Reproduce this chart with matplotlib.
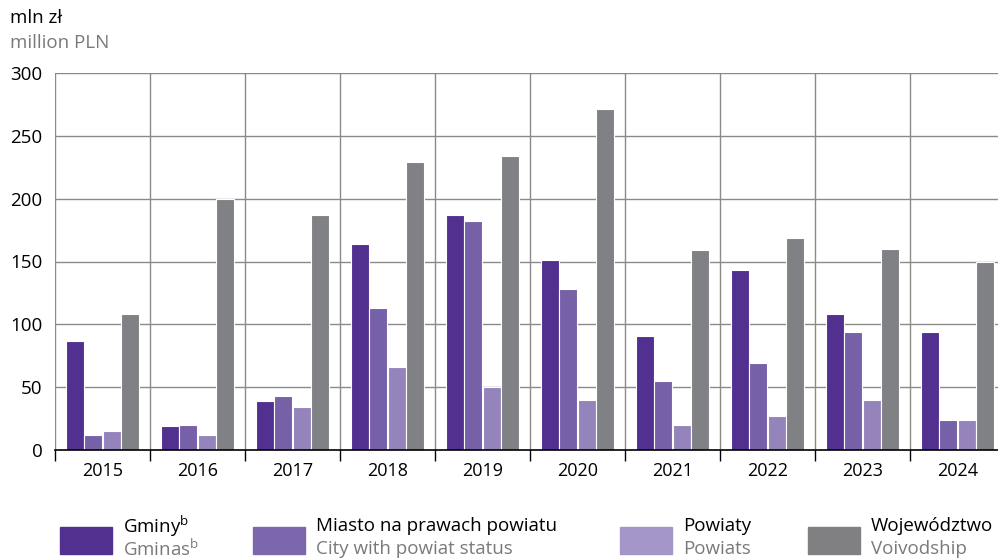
import numpy as np
import matplotlib.pyplot as plt
from matplotlib.patches import Rectangle

years = ["2015", "2016", "2017", "2018", "2019", "2020", "2021", "2022", "2023", "2024"]
gminy = [87, 19, 39, 164, 187, 151, 91, 143, 108, 94]
miasto = [12, 20, 43, 113, 182, 128, 55, 69, 94, 24]
powiaty = [15, 12, 34, 66, 50, 40, 20, 27, 40, 24]
wojew = [108, 200, 187, 229, 234, 271, 159, 169, 160, 150]

series = [gminy, miasto, powiaty, wojew]
colors = ["#52308f", "#7660a8", "#9583bc", "#808184"]
leg_colors = ["#52308f", "#7c66ac", "#a596c8", "#808083"]
labels_pl = ["Gminy$^{\\mathregular{b}}$", "Miasto na prawach powiatu", "Powiaty", "Województwo"]
labels_en = ["Gminas$^{\\mathregular{b}}$", "City with powiat status", "Powiats", "Voivodship"]

plt.rcParams['font.family'] = ['Open Sans', 'DejaVu Sans']

fig = plt.figure(figsize=(9.98, 5.6), dpi=100)
ax = fig.add_axes([55/998, 1-450/560, 950/998, 377/560])

x = np.arange(len(years))
offs = [-0.29, -0.097, 0.097, 0.29]
for vals, c, o in zip(series, colors, offs):
    ax.bar(x + o, vals, width=0.19, color=c, edgecolor="white", linewidth=0.8, zorder=3)

ax.set_xlim(-0.5, 9.5)
ax.set_ylim(0, 300)
ax.set_yticks(range(0, 301, 50))
for v in range(50, 301, 50):
    ax.axhline(v, color="#8a8a8a", lw=1, zorder=1)
for b in np.arange(-0.5, 10, 1):
    ax.axvline(b, color="#8a8a8a", lw=1, zorder=1)

ax.set_xticks(x)
ax.set_xticklabels(years, fontsize=13)
ax.set_xticks(np.arange(-0.5, 10, 1), minor=True)
ax.tick_params(axis="x", which="major", length=0, pad=9)
ax.tick_params(axis="x", which="minor", length=8, width=1, color="black", direction="out")
ax.tick_params(axis="y", length=0, labelsize=13.5, pad=9)
for s in ["top", "right", "left"]:
    ax.spines[s].set_visible(False)
ax.spines["bottom"].set_color("black")
ax.spines["bottom"].set_linewidth(1.2)
ax.spines["bottom"].set_zorder(4)

fig.text(10/998, 1-18/560, "mln zł", fontsize=13.5, color="black", va="center")
fig.text(10/998, 1-43/560, "million PLN", fontsize=13.5, color="#7a7a7a", va="center")

patch_x = [60, 253, 620, 808]
for px, c, lp, le in zip(patch_x, leg_colors, labels_pl, labels_en):
    fig.patches.append(Rectangle((px/998, 1-554/560), 52/998, 27/560,
                                 transform=fig.transFigure, color=c))
    fig.text((px+63)/998, 1-526/560, lp, fontsize=13.5, color="black", va="center")
    fig.text((px+63)/998, 1-549/560, le, fontsize=13.5, color="#7a7a7a", va="center")

fig.savefig("out.png", dpi=100)
